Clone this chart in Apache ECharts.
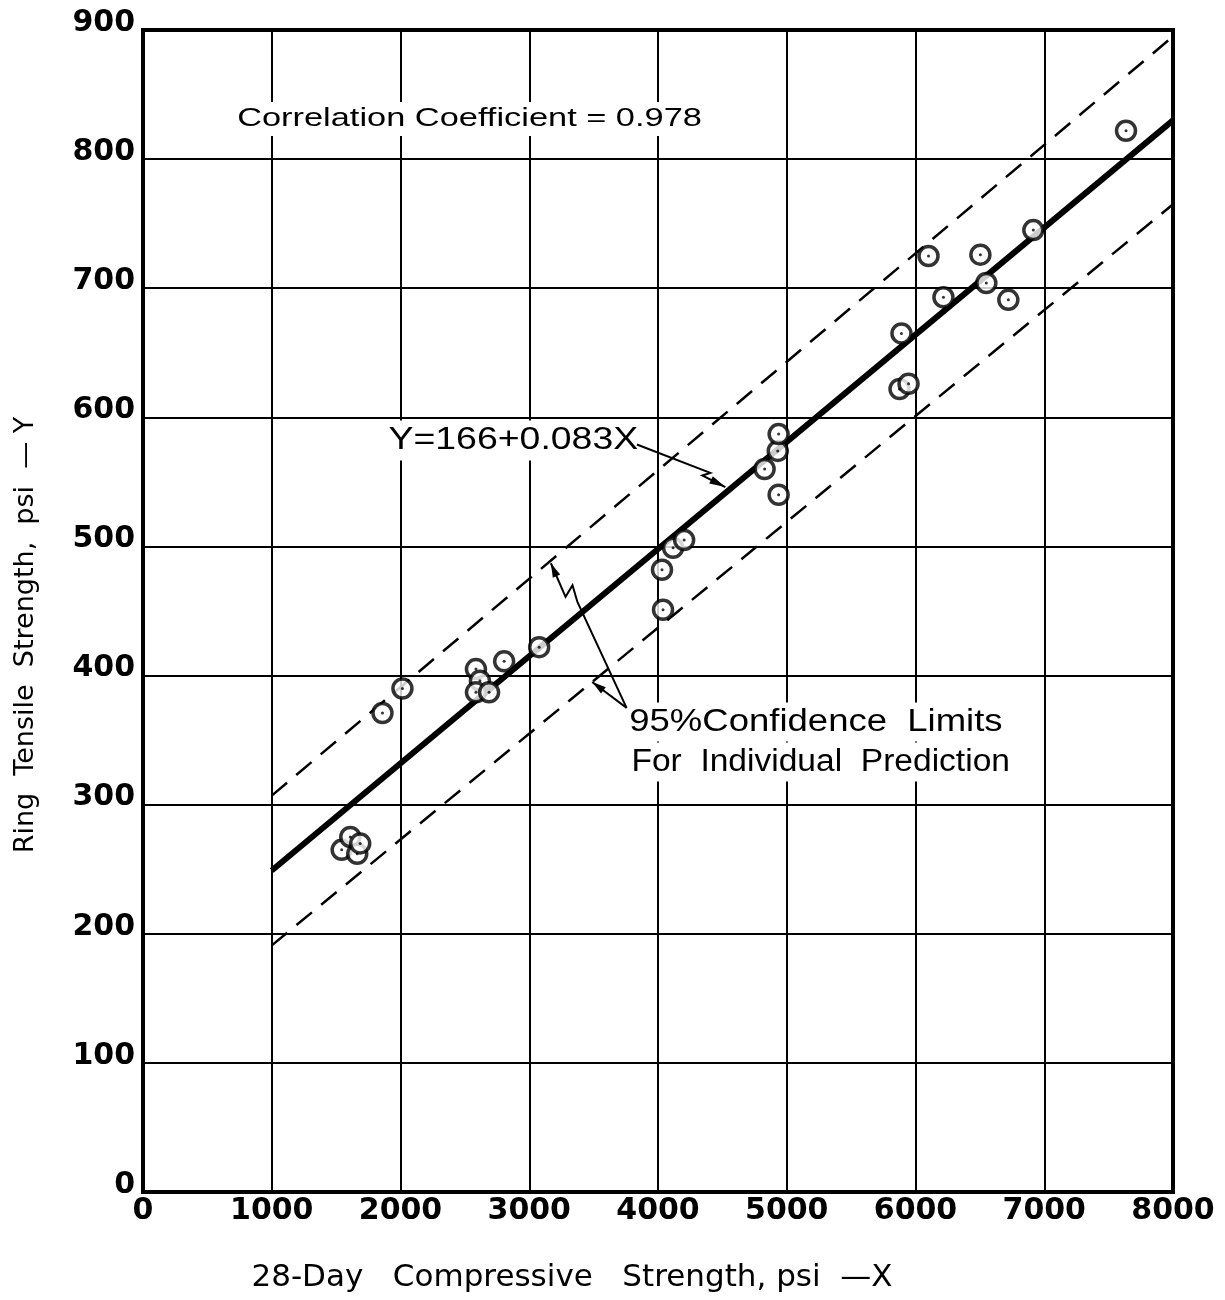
<!DOCTYPE html>
<html>
<head>
<meta charset="utf-8">
<script src="https://cdn.jsdelivr.net/npm/echarts@6/dist/echarts.min.js"></script>
<style>
html,body{margin:0;padding:0;background:#fff;}
#chart{width:1225px;height:1300px;}
</style>
</head>
<body>
<div id="chart"></div>
<script>
// ---- data ----
var compStrength = [1543, 1610, 1664, 1687, 1860, 2015, 2586, 2617, 2586, 2688, 2805, 3077,
                    4039, 4031, 4117, 4203, 4828, 4930, 4937, 4937, 5876, 5891, 5946, 6101,
                    6217, 6504, 6550, 6721, 6915, 7635];
var ringTensile  = [265, 275, 262, 270, 371, 390, 405, 396, 387, 387, 411, 422,
                    451, 482, 499, 505, 560, 574, 587, 540, 622, 665, 626, 725,
                    693, 726, 704, 691, 745, 822];
var fitX   = [1000, 8000];
var fitY   = [249, 830];
var upperX = [1000, 8000];
var upperY = [307, 895];
var lowerX = [1000, 8000];
var lowerY = [191, 765];
var xTicks = [0, 1000, 2000, 3000, 4000, 5000, 6000, 7000, 8000];
var yTicks = [0, 100, 200, 300, 400, 500, 600, 700, 800, 900];

var corrText = 'Correlation Coefficient = 0.978';
var eqText = 'Y=166+0.083X';
var ciText1 = '95%Confidence  Limits';
var ciText2 = 'For  Individual  Prediction';
var xTitle = '28-Day   Compressive   Strength, psi  \u2014X';
var yTitle = 'Ring  Tensile  Strength,  psi  \u2014 Y';

function zip(a, b) { return a.map(function (v, i) { return [v, b[i]]; }); }

var chart = echarts.init(document.getElementById('chart'), null, {renderer: 'canvas'});
var tickFont = {fontFamily: 'DejaVu Sans', fontWeight: 'bold', fontSize: 30, color: '#000'};

chart.setOption({
  backgroundColor: '#fff',
  animation: false,
  grid: {left: 143, right: 52, top: 30, bottom: 108, show: true, borderColor: '#000', borderWidth: 4},
  xAxis: {
    type: 'value', min: xTicks[0], max: xTicks[xTicks.length - 1], interval: 1000,
    axisLine: {show: false}, axisTick: {show: false},
    splitLine: {show: true, lineStyle: {color: '#000', width: 2}},
    axisLabel: Object.assign({margin: 4, formatter: function (v) { return String(v); }}, tickFont),
    name: xTitle, nameLocation: 'middle', nameGap: 70,
    nameTextStyle: {fontFamily: 'DejaVu Sans', fontSize: 31, color: '#000', padding: [0, 172, 0, 0]}
  },
  yAxis: {
    type: 'value', min: yTicks[0], max: yTicks[yTicks.length - 1], interval: 100,
    axisLine: {show: false}, axisTick: {show: false},
    splitLine: {show: true, lineStyle: {color: '#000', width: 2}},
    axisLabel: Object.assign({margin: 8, verticalAlign: 'bottom', lineHeight: 14,
                              formatter: function (v) { return String(v); }}, tickFont),
    name: yTitle, nameLocation: 'middle', nameGap: 104,
    nameTextStyle: {fontFamily: 'DejaVu Sans', fontSize: 27, color: '#000', padding: [0, 48, 0, 0]}
  },
  series: [
    {type: 'line', data: zip(upperX, upperY), symbol: 'none', silent: true,
     lineStyle: {color: '#000', width: 2.5, type: [20, 12]}},
    {type: 'line', data: zip(lowerX, lowerY), symbol: 'none', silent: true,
     lineStyle: {color: '#000', width: 2.5, type: [20, 12]}},
    {type: 'line', data: zip(fitX, fitY), symbol: 'none', silent: true,
     lineStyle: {color: '#000', width: 6}},
    {type: 'scatter', data: zip(compStrength, ringTensile), symbol: 'circle', symbolSize: 19,
     itemStyle: {color: '#fff', borderColor: '#000', borderWidth: 3.5}, z: 5},
    {type: 'scatter', data: zip(compStrength, ringTensile), symbol: 'circle', symbolSize: 3,
     itemStyle: {color: '#000'}, z: 6}
  ]
});

function px(x, y) { return chart.convertToPixel({gridIndex: 0}, [x, y]); }
function polyline(points, w) {
  return {type: 'polyline', z: 20, shape: {points: points.map(function (p) { return px(p[0], p[1]); })},
          style: {stroke: '#000', lineWidth: w || 2, fill: null}};
}
function arrowHead(tip, from, size) {
  var t = px(tip[0], tip[1]), f = px(from[0], from[1]);
  var ang = Math.atan2(t[1] - f[1], t[0] - f[0]);
  var s = size || 12, wd = 4;
  var bx = t[0] - s * Math.cos(ang), by = t[1] - s * Math.sin(ang);
  return {type: 'polygon', z: 21, shape: {points: [t,
    [bx + wd * Math.sin(ang), by - wd * Math.cos(ang)],
    [bx - wd * Math.sin(ang), by + wd * Math.cos(ang)]]}, style: {fill: '#000'}};
}
var measureCtx = document.createElement('canvas').getContext('2d');
// text stretched horizontally to span from data x0 to data x1 (lettering is widely spaced)
function label(text, x0, x1, y, size) {
  var p0 = px(x0, y), p1 = px(x1, y);
  var font = size + 'px "Liberation Sans"';
  measureCtx.font = font;
  var w = measureCtx.measureText(text).width;
  var sx = (p1[0] - p0[0]) / w;
  return {type: 'text', z: 15, x: p0[0], y: p0[1], scaleX: sx,
    style: {text: text, fill: '#000', font: font, textVerticalAlign: 'middle',
            backgroundColor: '#fff', padding: [4, 4, 4, 4]}};
}

// annotation anchors (data coordinates)
var eqArrow = [[3836, 579], [4406, 557], [4344, 555], [4523, 546]];
var upArrow = [[3756, 375], [3374, 457], [3336, 470], [3282, 461], [3168, 487]];
var loArrow = [[3756, 375], [3489, 395]];

chart.setOption({
  graphic: [
    label(corrText, 690, 4300, 831, 26),
    label(eqText, 1870, 3810, 582, 32),
    label(ciText1, 3740, 6640, 364, 31),
    label(ciText2, 3760, 6700, 333, 31),
    polyline(eqArrow, 2),
    arrowHead(eqArrow[3], eqArrow[2], 16),
    polyline(upArrow, 2),
    arrowHead(upArrow[4], upArrow[3], 14),
    polyline(loArrow, 2),
    arrowHead(loArrow[1], loArrow[0], 14)
  ]
});
</script>
</body>
</html>
